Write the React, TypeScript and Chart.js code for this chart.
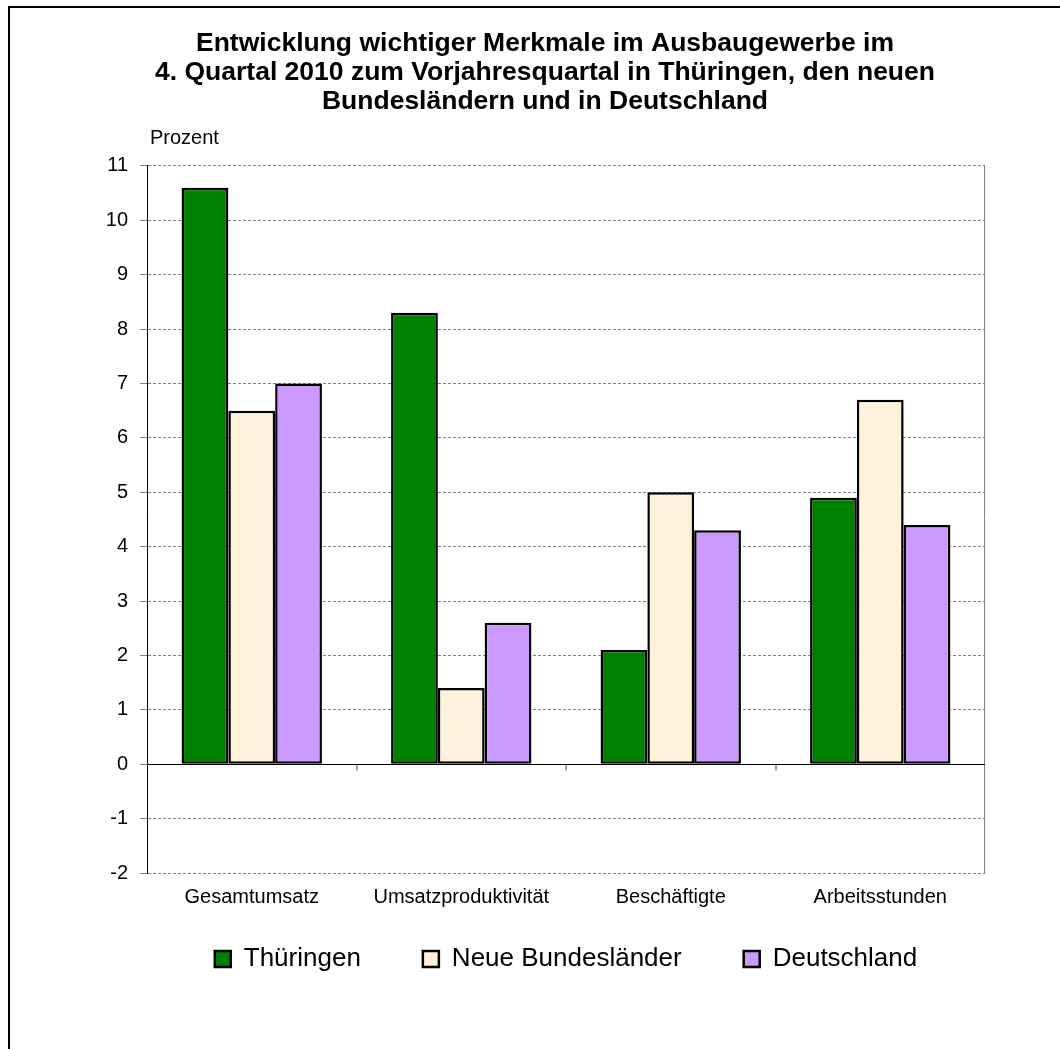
import React, { useEffect, useRef } from "react";
import { Chart, registerables } from "chart.js";

Chart.register(...registerables);

const categories = ["Gesamtumsatz", "Umsatzproduktivität", "Beschäftigte", "Arbeitsstunden"];
const seriesNames = ["Thüringen", "Neue Bundesländer", "Deutschland"];
const thueringen = [10.6, 8.3, 2.1, 4.9];
const neueLaender = [6.5, 1.4, 5.0, 6.7];
const deutschland = [7.0, 2.6, 4.3, 4.4];
const titleLines = [
  "Entwicklung wichtiger Merkmale im Ausbaugewerbe im",
  "4. Quartal 2010 zum Vorjahresquartal in Thüringen, den neuen",
  "Bundesländern und in Deutschland",
];
const yAxisLabel = "Prozent";
const yMin = -2;
const yMax = 11;

const FONT = '"Liberation Sans", Arial, sans-serif';

const framePlugin = {
  id: "frame",
  beforeDraw(chart: any) {
    const { ctx, width, height } = chart;
    ctx.save();
    ctx.fillStyle = "#ffffff";
    ctx.fillRect(0, 0, width, height);
    ctx.strokeStyle = "#000000";
    ctx.lineWidth = 2;
    ctx.beginPath();
    ctx.moveTo(9, height);
    ctx.lineTo(9, 7);
    ctx.lineTo(width, 7);
    ctx.stroke();
    ctx.restore();
  },
};

const decorPlugin = {
  id: "decor",
  beforeDatasetsDraw(chart: any) {
    const { ctx, chartArea, scales } = chart;
    const x = scales.x;
    const y = scales.y;
    const y0 = Math.round(y.getPixelForValue(0)) + 0.5;
    ctx.save();
    ctx.strokeStyle = "#808080";
    ctx.lineWidth = 1;
    const rx = Math.round(chartArea.right) - 0.5;
    ctx.beginPath();
    ctx.moveTo(rx, chartArea.top);
    ctx.lineTo(rx, chartArea.bottom);
    ctx.stroke();
    ctx.strokeStyle = "#a0a0a0";
    ctx.lineWidth = 2;
    for (let i = 1; i < categories.length; i++) {
      const px = Math.round((x.getPixelForTick(i - 1) + x.getPixelForTick(i)) / 2);
      ctx.beginPath();
      ctx.moveTo(px, y0);
      ctx.lineTo(px, y0 + 6);
      ctx.stroke();
    }
    ctx.strokeStyle = "#000000";
    ctx.lineWidth = 1;
    ctx.beginPath();
    ctx.moveTo(chartArea.left, y0);
    ctx.lineTo(chartArea.right, y0);
    ctx.stroke();
    ctx.restore();
  },
  afterDraw(chart: any) {
    const { ctx, chartArea } = chart;
    ctx.save();
    ctx.fillStyle = "#000000";
    ctx.font = `20px ${FONT}`;
    ctx.textAlign = "left";
    ctx.textBaseline = "middle";
    ctx.fillText(yAxisLabel, chartArea.left + 3, chartArea.top - 27);
    ctx.restore();
  },
};

export default function App() {
  const canvasRef = useRef<HTMLCanvasElement | null>(null);

  useEffect(() => {
    document.body.style.margin = "0";
    const canvas = canvasRef.current;
    if (!canvas) return;
    Chart.defaults.font.family = FONT;
    const chart = new Chart(canvas, {
      type: "bar",
      data: {
        labels: categories,
        datasets: [
          {
            label: seriesNames[0],
            data: thueringen,
            backgroundColor: "#008000",
            borderColor: "#000000",
            borderWidth: 2.5,
            borderSkipped: false,
          },
          {
            label: seriesNames[1],
            data: neueLaender,
            backgroundColor: "#FFF1DA",
            borderColor: "#000000",
            borderWidth: 2.5,
            borderSkipped: false,
          },
          {
            label: seriesNames[2],
            data: deutschland,
            backgroundColor: "#CC99FF",
            borderColor: "#000000",
            borderWidth: 2.5,
            borderSkipped: false,
          },
        ],
      },
      options: {
        responsive: false,
        animation: false,
        devicePixelRatio: 1,
        layout: { padding: { left: 105, right: 75, top: 0, bottom: 67 } },
        datasets: {
          bar: { barPercentage: 1, categoryPercentage: 0.67 },
        },
        plugins: {
          title: {
            display: true,
            text: titleLines,
            color: "#000000",
            font: { size: 26.5, weight: "bold", family: FONT, lineHeight: 1.094 },
            padding: { top: 29.5, bottom: 49.5 },
          },
          legend: {
            display: true,
            position: "bottom",
            fullSize: false,
            labels: {
              boxWidth: 16,
              boxHeight: 16,
              padding: 62,
              color: "#000000",
              font: { size: 26, family: FONT },
            },
          },
          tooltip: { enabled: false },
        },
        scales: {
          x: {
            grid: { display: false, drawTicks: false },
            border: { display: false },
            ticks: {
              color: "#000000",
              font: { size: 20, family: FONT },
              mirror: true,
              padding: -36,
              maxRotation: 0,
              autoSkip: false,
            },
            afterFit: (s: any) => {
              s.height = 11;
            },
          },
          y: {
            min: yMin,
            max: yMax,
            grid: {
              color: "#808080",
              lineWidth: 1,
              tickColor: "#808080",
              tickLength: 7,
              tickBorderDash: [],
            },
            border: { display: true, color: "#000000", width: 1, dash: [3, 2] },
            ticks: { stepSize: 1, color: "#000000", font: { size: 20, family: FONT }, padding: 12 },
            afterFit: (s: any) => {
              s.width = 42;
            },
          },
        },
      },
      plugins: [framePlugin, decorPlugin],
    });
    return () => chart.destroy();
  }, []);

  return (
    <div style={{ width: 1060, height: 1049, overflow: "hidden" }}>
      <canvas ref={canvasRef} width={1060} height={1049} style={{ display: "block" }} />
    </div>
  );
}
